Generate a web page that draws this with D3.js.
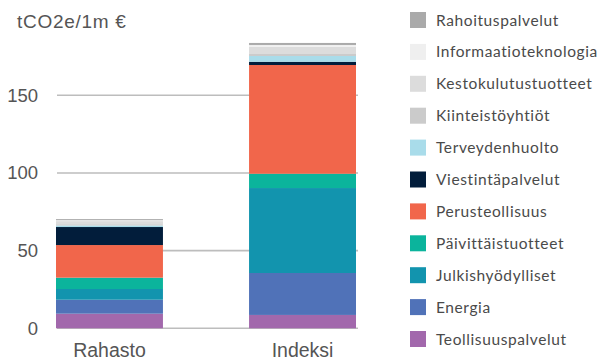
<!DOCTYPE html>
<html>
<head>
<meta charset="utf-8">
<script src="https://cdn.jsdelivr.net/npm/d3@7"></script>
<style>
  html, body { margin: 0; padding: 0; background: #fff; }
  svg { display: block; }
</style>
</head>
<body>
<svg id="chart" width="602" height="362"></svg>
<script>
// Portfolios compared
const groups = ["Rahasto", "Indeksi"];

// Sectors, bottom of the stack first
const sectors = [
  "Teollisuuspalvelut", "Energia", "Julkishyödylliset", "Päivittäistuotteet",
  "Perusteollisuus", "Viestintäpalvelut", "Terveydenhuolto", "Kiinteistöyhtiöt",
  "Kestokulutustuotteet", "Informaatioteknologia", "Rahoituspalvelut"
];

// Carbon intensity per sector (tCO2e / 1m €), same order as sectors
const rahastoValues = [9.4, 9.0, 6.9, 7.3, 21.0, 11.6, 1.0, 0.8, 2.0, 0.6, 0.7];
const indeksiValues = [8.6, 27.0, 54.7, 9.2, 70.0, 2.1, 3.7, 1.3, 4.7, 1.1, 1.3];

const sectorColors = [
  "#a268ac", "#5072b8", "#1294ae", "#0bb49c",
  "#f1664b", "#021d3b", "#a9dcea", "#cbcbcb",
  "#dcdcdc", "#efefef", "#aaaaaa"
];

const yTicks = [0, 50, 100, 150];
const unitLabel = "tCO2e/1m €";

const rows = groups.map((g, i) => {
  const vals = i === 0 ? rahastoValues : indeksiValues;
  const r = { group: g };
  sectors.forEach((s, j) => { r[s] = vals[j]; });
  return r;
});

const svg = d3.select("#chart");

const x = d3.scaleBand().domain(groups).range([56, 356]).paddingInner(0.446).paddingOuter(0);
const y = d3.scaleLinear().domain([0, 150]).range([328.3, 95.3]);
const color = d3.scaleOrdinal().domain(sectors).range(sectorColors);

// Horizontal gridlines
svg.append("g")
  .selectAll("line")
  .data(yTicks)
  .join("line")
  .attr("x1", 57).attr("x2", 358)
  .attr("y1", d => y(d)).attr("y2", d => y(d))
  .attr("stroke", "#bdbdbd").attr("stroke-width", 1.6);

// Y axis labels
const yAxis = d3.axisLeft(y).tickValues(yTicks).tickSize(0).tickPadding(0);
const yg = svg.append("g").attr("transform", "translate(38,0)").call(yAxis);
yg.select(".domain").remove();
yg.selectAll("text")
  .attr("font-family", "'Liberation Sans', Arial, sans-serif")
  .attr("font-size", 18.5)
  .attr("fill", "#555");

// Unit title
svg.append("text")
  .attr("x", 17).attr("y", 28)
  .attr("font-family", "'Liberation Sans', Arial, sans-serif")
  .attr("font-size", 19)
  .attr("letter-spacing", 0.7)
  .attr("fill", "#555")
  .text(unitLabel);

// Stacked bars
const stack = d3.stack().keys(sectors)(rows);
svg.append("g")
  .selectAll("g")
  .data(stack)
  .join("g")
  .attr("fill", d => color(d.key))
  .selectAll("rect")
  .data(d => d)
  .join("rect")
  .attr("x", d => x(d.data.group))
  .attr("width", x.bandwidth())
  .attr("y", d => y(d[1]))
  .attr("height", d => y(d[0]) - y(d[1]));

// Category labels
const xAxis = d3.axisBottom(x).tickSize(0).tickPadding(0);
const xg = svg.append("g").attr("transform", "translate(0,343)").call(xAxis);
xg.select(".domain").remove();
xg.selectAll("text")
  .attr("font-family", "'Liberation Sans', Arial, sans-serif")
  .attr("font-size", 19.5)
  .attr("fill", "#555");

// Legend, top entry is the top of the stack
const legendItems = sectors.slice().reverse();
const legend = svg.append("g")
  .selectAll("g")
  .data(legendItems)
  .join("g")
  .attr("transform", (d, i) => `translate(410, ${12 + i * 31.9})`);
legend.append("rect")
  .attr("width", 16).attr("height", 16)
  .attr("fill", d => color(d));
legend.append("text")
  .attr("x", 26).attr("y", 8)
  .attr("dy", "0.36em")
  .attr("font-family", "Lato, 'Noto Sans', sans-serif")
  .attr("font-size", 15.5)
  .attr("letter-spacing", 0.6)
  .attr("fill", "#4a4a4a")
  .text(d => d);
</script>
</body>
</html>
